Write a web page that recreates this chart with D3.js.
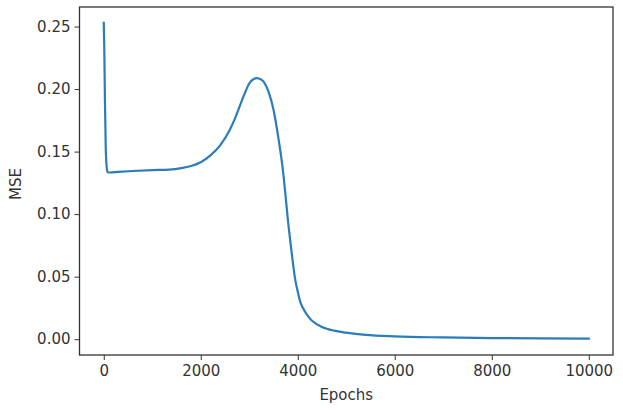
<!DOCTYPE html>
<html>
<head>
<meta charset="utf-8">
<script src="https://cdn.jsdelivr.net/npm/d3@7"></script>
<style>
  html, body { margin: 0; padding: 0; background: #fff; }
  svg { display: block; }
  text { font-family: "DejaVu Sans", sans-serif; fill: #333; }
</style>
</head>
<body>
<svg id="chart" width="623" height="413"></svg>
<script>
const epochs = [0, 10, 25, 40, 60, 80, 120, 300, 600, 1000, 1350, 1600, 1800, 2000, 2200, 2400, 2600, 2700, 2800, 2900, 3000, 3100, 3150, 3200, 3300, 3400, 3500, 3600, 3700, 3750, 3800, 3850, 3900, 3950, 4000, 4050, 4100, 4200, 4300, 4500, 4750, 5000, 5400, 6000, 7000, 8000, 9000, 9999];
const mse = [0.253, 0.235, 0.19, 0.155, 0.138, 0.1335, 0.1333, 0.1338, 0.1345, 0.1352, 0.1356, 0.1368, 0.1385, 0.1415, 0.147, 0.155, 0.1675, 0.176, 0.186, 0.196, 0.2045, 0.2082, 0.2088, 0.2085, 0.2058, 0.1975, 0.1835, 0.161, 0.133, 0.114, 0.094, 0.077, 0.061, 0.047, 0.038, 0.030, 0.0255, 0.019, 0.0145, 0.0098, 0.0068, 0.0052, 0.0034, 0.0022, 0.0014, 0.0009, 0.0006, 0.0004];
const xTicks = [0, 2000, 4000, 6000, 8000, 10000];
const yTicks = [0.00, 0.05, 0.10, 0.15, 0.20, 0.25];
const xLabel = "Epochs";
const yLabel = "MSE";

const mLeft = 79.5, mRight = 613, mTop = 7, mBottom = 355;
const svg = d3.select("#chart");

const x = d3.scaleLinear().domain([-500, 10499]).range([mLeft, mRight]);
const y = d3.scaleLinear().domain([-0.01265, 0.26565]).range([mBottom, mTop]);

const data = epochs.map((e, i) => ({ e, v: mse[i] }));

svg.append("path")
  .datum(data)
  .attr("fill", "none")
  .attr("stroke", "#2a7dba")
  .attr("stroke-width", 2.2)
  .attr("stroke-linejoin", "round")
  .attr("stroke-linecap", "square")
  .attr("d", d3.line().x(d => x(d.e)).y(d => y(d.v)).curve(d3.curveMonotoneX));

// axes
const xAxis = d3.axisBottom(x).tickValues(xTicks).tickFormat(d3.format("d")).tickSize(5).tickPadding(5);
const yAxis = d3.axisLeft(y).tickValues(yTicks).tickFormat(d3.format(".2f")).tickSize(5).tickPadding(4);

const gx = svg.append("g").attr("transform", `translate(0,${mBottom})`).call(xAxis);
const gy = svg.append("g").attr("transform", `translate(${mLeft},0)`).call(yAxis);
[gx, gy].forEach(g => {
  g.select(".domain").remove();
  g.selectAll(".tick line").attr("stroke", "#333").attr("stroke-width", 1);
  g.selectAll(".tick text").attr("font-size", 15).attr("fill", "#333").style("font-family", "DejaVu Sans, sans-serif");
});

// frame
svg.append("rect")
  .attr("x", mLeft).attr("y", mTop)
  .attr("width", mRight - mLeft).attr("height", mBottom - mTop)
  .attr("fill", "none").attr("stroke", "#333").attr("stroke-width", 1.3);

svg.append("text")
  .attr("x", (mLeft + mRight) / 2).attr("y", 400)
  .attr("text-anchor", "middle").attr("font-size", 15)
  .text(xLabel);

svg.append("text")
  .attr("transform", `translate(21,${(mTop + mBottom) / 2 + 3}) rotate(-90)`)
  .attr("text-anchor", "middle").attr("font-size", 15)
  .text(yLabel);
</script>
</body>
</html>
